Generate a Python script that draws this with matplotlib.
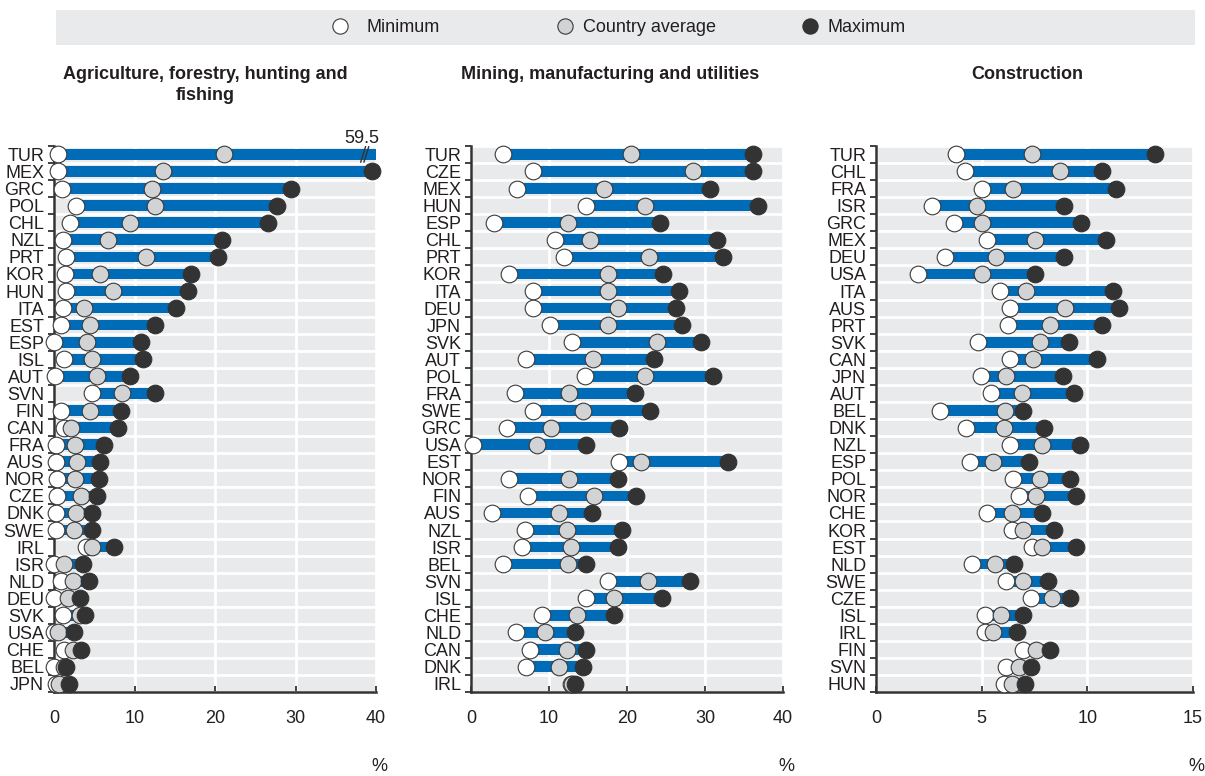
import matplotlib
matplotlib.use("Agg")
import matplotlib.pyplot as plt
from matplotlib.lines import Line2D
from matplotlib.patches import Rectangle
import numpy as np

plt.rcParams['font.family'] = ['Liberation Sans', 'DejaVu Sans']

# Agriculture, forestry, hunting and fishing
agri_countries = ["TUR", "MEX", "GRC", "POL", "CHL", "NZL", "PRT", "KOR", "HUN", "ITA", "EST",
                  "ESP", "ISL", "AUT", "SVN", "FIN", "CAN", "FRA", "AUS", "NOR", "CZE", "DNK",
                  "SWE", "IRL", "ISR", "NLD", "DEU", "SVK", "USA", "CHE", "BEL", "JPN"]
agri_min = [0.5, 0.5, 1.0, 2.7, 2.0, 1.1, 1.5, 1.4, 1.5, 1.1, 0.9, 0.0, 1.3, 0.1, 4.7, 0.9,
            1.3, 0.2, 0.3, 0.4, 0.4, 0.3, 0.3, 4.0, 0.0, 0.9, 0.0, 1.1, 0.0, 1.25, 0.0, 0.3]
agri_avg = [21.1, 13.6, 12.2, 12.6, 9.5, 6.7, 11.4, 5.7, 7.3, 3.75, 4.5, 4.1, 4.75, 5.4, 8.4,
            4.5, 2.1, 2.6, 2.8, 2.6, 3.3, 2.7, 2.5, 4.75, 1.2, 2.3, 1.7, 3.2, 0.5, 2.4, 1.3, 0.6]
agri_max = [59.5, 39.5, 29.5, 27.7, 26.6, 20.9, 20.4, 17.0, 16.6, 15.2, 12.5, 10.8, 11.0, 9.5,
            12.5, 8.3, 8.0, 6.25, 5.7, 5.6, 5.4, 4.75, 4.75, 7.4, 3.6, 4.3, 3.2, 3.8, 2.5, 3.3,
            1.5, 1.9]

# Mining, manufacturing and utilities
mining_countries = ["TUR", "CZE", "MEX", "HUN", "ESP", "CHL", "PRT", "KOR", "ITA", "DEU", "JPN",
                    "SVK", "AUT", "POL", "FRA", "SWE", "GRC", "USA", "EST", "NOR", "FIN", "AUS",
                    "NZL", "ISR", "BEL", "SVN", "ISL", "CHE", "NLD", "CAN", "DNK", "IRL"]
mining_min = [4.1, 8.0, 5.9, 14.8, 2.9, 10.8, 11.9, 4.9, 7.9, 7.9, 10.1, 12.9, 7.1, 14.6, 5.6,
              7.9, 4.6, 0.3, 19.0, 4.9, 7.3, 2.7, 6.9, 6.6, 4.1, 17.6, 14.7, 9.1, 5.8, 7.6, 7.1,
              12.8]
mining_avg = [20.5, 28.4, 17.1, 22.3, 12.4, 15.2, 22.8, 17.5, 17.5, 18.9, 17.6, 23.8, 15.6, 22.3,
              12.6, 14.4, 10.3, 8.4, 21.8, 12.6, 15.8, 11.3, 12.3, 12.8, 12.4, 22.7, 18.3, 13.6,
              9.5, 12.3, 11.3, 12.9]
mining_max = [36.2, 36.1, 30.6, 36.8, 24.2, 31.6, 32.3, 24.6, 26.7, 26.3, 27.1, 29.5, 23.5, 31.0,
              21.0, 22.9, 19.0, 14.7, 33.0, 18.9, 21.2, 15.5, 19.4, 18.9, 14.8, 28.1, 24.5, 18.3,
              13.3, 14.7, 14.3, 13.3]

# Construction
constr_countries = ["TUR", "CHL", "FRA", "ISR", "GRC", "MEX", "DEU", "USA", "ITA", "AUS", "PRT",
                    "SVK", "CAN", "JPN", "AUT", "BEL", "DNK", "NZL", "ESP", "POL", "NOR", "CHE",
                    "KOR", "EST", "NLD", "SWE", "CZE", "ISL", "IRL", "FIN", "SVN", "HUN"]
constr_min = [3.8, 4.2, 5.0, 2.65, 3.7, 5.25, 3.25, 2.0, 5.85, 6.35, 6.25, 4.85, 6.35, 4.95, 5.45,
              3.05, 4.25, 6.35, 4.45, 6.5, 6.75, 5.25, 6.45, 7.4, 4.55, 6.15, 7.35, 5.15, 5.15,
              6.95, 6.15, 6.05]
constr_avg = [7.4, 8.7, 6.5, 4.8, 5.0, 7.5, 5.7, 5.0, 7.1, 8.95, 8.25, 7.75, 7.45, 6.15, 6.9, 6.1,
              6.05, 7.85, 5.55, 7.75, 7.55, 6.45, 6.95, 7.85, 5.65, 6.95, 8.35, 5.9, 5.55, 7.55,
              6.75, 6.45]
constr_max = [13.2, 10.7, 11.35, 8.9, 9.7, 10.9, 8.9, 7.5, 11.2, 11.5, 10.7, 9.15, 10.45, 8.85,
              9.35, 6.95, 7.95, 9.65, 7.25, 9.2, 9.45, 7.85, 8.4, 9.45, 6.55, 8.15, 9.2, 6.95,
              6.65, 8.25, 7.35, 7.05]

titles = ["Agriculture, forestry, hunting and\nfishing",
          "Mining, manufacturing and utilities",
          "Construction"]
legend_labels = ["Minimum", "Country average", "Maximum"]

BLUE = "#006BB6"
GREY_BG = "#e9eaeb"
DARK = "#333333"
AVG = "#d2d3d5"
TXT = "#231f20"

fig = plt.figure(figsize=(12.05, 7.76), dpi=100)

panels = [
    (agri_countries, agri_min, agri_avg, agri_max, 40, [0, 10, 20, 30, 40]),
    (mining_countries, mining_min, mining_avg, mining_max, 40, [0, 10, 20, 30, 40]),
    (constr_countries, constr_min, constr_avg, constr_max, 15, [0, 5, 10, 15]),
]
axes_pos = [[54 / 1205, 0.108, 322 / 1205, 0.704],
            [471 / 1205, 0.108, 312 / 1205, 0.704],
            [876 / 1205, 0.108, 317 / 1205, 0.704]]
title_x = [205 / 1205, 610 / 1205, 1027 / 1205]

for k, (cty, mn, av, mx, xmax, ticks) in enumerate(panels):
    ax = fig.add_axes(axes_pos[k])
    n = len(cty)
    y = np.arange(n)
    mn = np.array(mn)
    mx = np.array(mx)
    ax.set_facecolor(GREY_BG)
    ax.barh(y, mx - mn, left=mn, height=0.62, color=BLUE, zorder=2)
    ax.plot(mn, y, 'o', ms=12, mfc='white', mec='#3a3a3a', mew=0.8, zorder=3, clip_on=False)
    ax.plot(av, y, 'o', ms=12, mfc=AVG, mec='#3a3a3a', mew=0.8, zorder=4, clip_on=False)
    vis = mx <= xmax
    ax.plot(mx[vis], y[vis], 'o', ms=12, mfc=DARK, mec=DARK, mew=0.8, zorder=5, clip_on=False)

    # values beyond the axis: break mark and value label
    for i in np.where(~vis)[0]:
        bx = xmax * 0.965
        for dx in (-0.2, 0.2):
            ax.plot([bx + dx - 0.3, bx + dx + 0.3], [i + 0.45, i - 0.45], color=DARK,
                    lw=1, zorder=6)
        ax.text(xmax * 0.955, -0.65, f"{mx[i]:.1f}", ha='center', va='baseline',
                fontsize=13, color=TXT, clip_on=False)

    ax.set_xlim(0, xmax)
    ax.set_ylim(n - 0.5, -0.5)
    ax.set_xticks(ticks)
    ax.set_xticklabels([str(t) for t in ticks], fontsize=13, color=TXT)
    ax.set_yticks(y)
    ax.set_yticklabels(cty, fontsize=13, color=TXT)
    ax.set_yticks(np.arange(-0.5, n, 1.0), minor=True)
    ax.tick_params(axis='y', which='major', length=0, pad=7)
    ax.tick_params(axis='y', which='minor', length=4.5, width=1.3, color=DARK, direction='out')
    ax.tick_params(axis='x', which='major', length=4.5, width=1.3, color=DARK,
                   direction='in', pad=13)
    ax.grid(axis='x', which='major', color='white', lw=2)
    ax.grid(axis='y', which='minor', color='white', lw=2)
    ax.set_axisbelow(True)
    for s in ['top', 'right']:
        ax.spines[s].set_visible(False)
    for s in ['left', 'bottom']:
        ax.spines[s].set_color(DARK)
        ax.spines[s].set_linewidth(1.8)
    ax.text(1.012, -0.1355, "%", transform=ax.transAxes, ha='center', va='center',
            fontsize=13, color=TXT)
    fig.text(title_x[k], 1 - 66 / 776, titles[k], ha='center', va='top', fontsize=13,
             fontweight='bold', color=TXT, linespacing=1.3)

# legend band
fig.add_artist(Rectangle((56 / 1205, 1 - 45 / 776), (1195 - 56) / 1205, 35 / 776,
                         transform=fig.transFigure, facecolor=GREY_BG, edgecolor='none'))
handles = [
    Line2D([], [], ls='', marker='o', ms=11, mfc='white', mec='#3a3a3a', mew=0.8),
    Line2D([], [], ls='', marker='o', ms=11, mfc=AVG, mec='#3a3a3a', mew=0.8),
    Line2D([], [], ls='', marker='o', ms=11, mfc=DARK, mec=DARK, mew=0.8),
]
marker_x = [340, 565, 810]
text_pad = [0.95, 0.5, 0.45]
for h, lab, mxp, tp in zip(handles, legend_labels, marker_x, text_pad):
    fig.legend([h], [lab], loc='center left', bbox_to_anchor=((mxp - 9) / 1205, 1 - 27.5 / 776),
               frameon=False, fontsize=13, handlelength=1, handletextpad=tp, borderpad=0,
               borderaxespad=0, labelcolor=TXT)

fig.savefig("out.png", dpi=100)
